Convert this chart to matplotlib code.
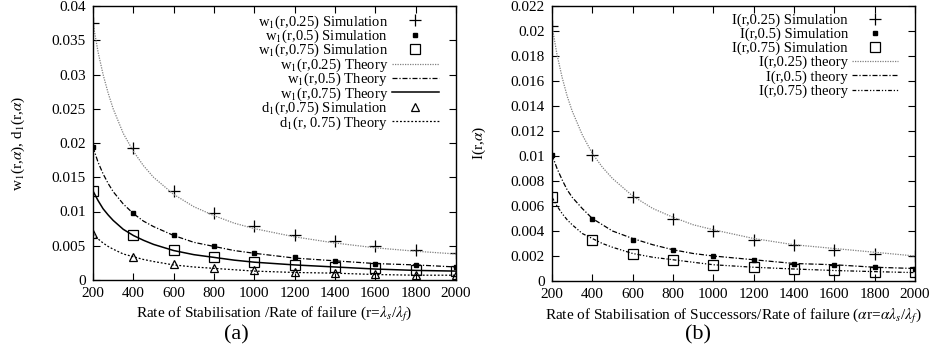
import matplotlib
matplotlib.use("Agg")
import matplotlib.pyplot as plt

plt.rcParams['font.family'] = ['Liberation Serif', 'DejaVu Serif']
plt.rcParams['mathtext.fontset'] = 'stix'
plt.rcParams['font.size'] = 11

# simulation points
r = [200, 400, 600, 800, 1000, 1200, 1400, 1600, 1800, 2000]
w1_25_sim = [0.0375, 0.0193, 0.0130, 0.0098, 0.0079, 0.0066, 0.0057, 0.0050, 0.0044, 0.0039]
w1_50_sim = [0.0194, 0.0098, 0.0066, 0.0049, 0.0040, 0.0033, 0.0028, 0.0024, 0.0022, 0.0019]
w1_75_sim = [0.0130, 0.0066, 0.0044, 0.0033, 0.0027, 0.0022, 0.0019, 0.0017, 0.0015, 0.0013]
d1_75_sim = [0.0067, 0.0034, 0.0023, 0.0017, 0.0014, 0.0012, 0.0010, 0.0009, 0.0008, 0.0007]

I_25_sim = [0.0204, 0.0101, 0.0067, 0.0050, 0.0040, 0.0033, 0.0029, 0.0025, 0.0022, 0.0020]
I_50_sim = [0.0101, 0.0050, 0.0033, 0.0025, 0.0020, 0.0017, 0.0014, 0.0013, 0.0011, 0.0010]
I_75_sim = [0.0067, 0.0033, 0.0022, 0.0017, 0.0013, 0.0011, 0.00095, 0.00085, 0.00075, 0.0007]

# theory curves (on a finer grid)
rt = [200, 225, 250, 275, 300, 350, 400, 450, 500, 600, 700, 800, 900, 1000,
      1200, 1400, 1600, 1800, 2000]
w1_25_th = [0.0375, 0.0333, 0.0300, 0.0273, 0.0250, 0.0214, 0.0188, 0.0167, 0.0150,
            0.0125, 0.0107, 0.0094, 0.0083, 0.0075, 0.0063, 0.0054, 0.0047, 0.0042, 0.0038]
w1_50_th = [0.0194, 0.0172, 0.0155, 0.0141, 0.0129, 0.0111, 0.0097, 0.0086, 0.0078,
            0.0065, 0.0055, 0.0049, 0.0043, 0.0039, 0.0032, 0.0028, 0.0024, 0.0022, 0.0019]
w1_75_th = [0.0130, 0.0116, 0.0104, 0.0095, 0.0087, 0.0074, 0.0065, 0.0058, 0.0052,
            0.0043, 0.0037, 0.0033, 0.0029, 0.0026, 0.0022, 0.0019, 0.0016, 0.0014, 0.0013]
d1_75_th = [0.0067, 0.0060, 0.0054, 0.0049, 0.0045, 0.0038, 0.0034, 0.0030, 0.0027,
            0.0022, 0.0019, 0.0017, 0.0015, 0.0013, 0.0011, 0.0010, 0.0008, 0.0007, 0.0007]

I_25_th = [0.0204, 0.0181, 0.0163, 0.0148, 0.0136, 0.0117, 0.0102, 0.0091, 0.0082,
           0.0068, 0.0058, 0.0051, 0.0045, 0.0041, 0.0034, 0.0029, 0.0026, 0.0023, 0.0020]
I_50_th = [0.0101, 0.0090, 0.0081, 0.0073, 0.0067, 0.0058, 0.0050, 0.0045, 0.0040,
           0.0034, 0.0029, 0.0025, 0.0022, 0.0020, 0.0017, 0.0014, 0.0013, 0.0011, 0.0010]
I_75_th = [0.0067, 0.0060, 0.0054, 0.0049, 0.0045, 0.0038, 0.0034, 0.0030, 0.0027,
           0.0022, 0.0019, 0.0017, 0.0015, 0.0013, 0.0011, 0.00096, 0.00084, 0.00075, 0.00067]

xticks = [200, 400, 600, 800, 1000, 1200, 1400, 1600, 1800, 2000]

fig = plt.figure(figsize=(9.32, 3.58), dpi=100)
W, H = 932.0, 358.0
ax1 = fig.add_axes([93 / W, 1 - 280 / H, (456 - 93) / W, (280 - 6) / H])
ax2 = fig.add_axes([552 / W, 1 - 281 / H, (915 - 552) / W, (281 - 6) / H])

def style(ax):
    ax.tick_params(direction='in', top=True, right=True, length=5, width=0.8, labelsize=11, pad=5)
    ax.set_xlim(200, 2000)
    ax.set_xticks(xticks)
    for s in ax.spines.values():
        s.set_linewidth(1.0)

leg_kw = dict(loc='upper right', frameon=False, markerfirst=False, alignment='right',
              fontsize=10.5, handlelength=3.2, handletextpad=0.25, borderpad=0.0)

# panel (a)
ax1.plot(r, w1_25_sim, '+', color='k', ms=8, mew=0.9, label='w$_1$(r,0.25) Simulation')
ax1.plot(r, w1_50_sim, 's', color='k', ms=3.5, label='w$_1$(r,0.5) Simulation')
ax1.plot(r, w1_75_sim, 's', mfc='none', mec='k', ms=6.5, mew=0.9, label='w$_1$(r,0.75) Simulation')
ax1.plot(rt, w1_25_th, color='0.5', lw=0.9, ls=(0, (1, 1)), label='w$_1$(r,0.25) Theory')
ax1.plot(rt, w1_50_th, color='k', lw=0.9, ls=(0, (4, 1.5, 1, 1.5)), label='w$_1$(r,0.5) Theory')
ax1.plot(rt, w1_75_th, color='k', lw=1.1, ls='-', label='w$_1$(r,0.75) Theory')
ax1.plot(r, d1_75_sim, '^', mfc='none', mec='k', ms=6, mew=0.9, label='d$_1$(r,0.75) Simulation')
ax1.plot(rt, d1_75_th, color='k', lw=0.9, ls=(0, (1.5, 1.5)), label='d$_1$(r, 0.75) Theory')
style(ax1)
ax1.set_ylim(0, 0.04)
ax1.set_yticks([0, 0.005, 0.01, 0.015, 0.02, 0.025, 0.03, 0.035, 0.04])
ax1.set_yticklabels(['0', '0.005', '0.01', '0.015', '0.02', '0.025', '0.03', '0.035', '0.04'])
ax1.set_ylabel(r'w$_1$(r,$\alpha$), d$_1$(r,$\alpha$)', fontsize=11)
ax1.yaxis.set_label_coords(-0.182, 0.5)
ax1.set_xlabel(r'Rate of Stabilisation /Rate of failure (r=$\lambda_s$/$\lambda_f$)', fontsize=11, labelpad=4)
ax1.legend(bbox_to_anchor=(0.972, 1.0), labelspacing=-0.2, **leg_kw)
fig.text(236 / W, 1 - 335 / H, '(a)', fontsize=16, ha='center', va='center')

# panel (b)
ax2.plot(r, I_25_sim, '+', color='k', ms=8, mew=0.9, label='I(r,0.25) Simulation')
ax2.plot(r, I_50_sim, 's', color='k', ms=3.5, label='I(r,0.5) Simulation')
ax2.plot(r, I_75_sim, 's', mfc='none', mec='k', ms=6.5, mew=0.9, label='I(r,0.75) Simulation')
ax2.plot(rt, I_25_th, color='0.5', lw=0.9, ls=(0, (1, 1)), label='I(r,0.25) theory')
ax2.plot(rt, I_50_th, color='k', lw=0.9, ls=(0, (4, 1.5, 1, 1.5)), label='I(r,0.5) theory')
ax2.plot(rt, I_75_th, color='k', lw=0.9, ls=(0, (3, 1.5, 1, 1.5, 1, 1.5)), label='I(r,0.75) theory')
style(ax2)
ax2.set_ylim(0, 0.022)
yt2 = [0, 0.002, 0.004, 0.006, 0.008, 0.01, 0.012, 0.014, 0.016, 0.018, 0.02, 0.022]
ax2.set_yticks(yt2)
ax2.set_yticklabels(['0', '0.002', '0.004', '0.006', '0.008', '0.01', '0.012', '0.014',
                     '0.016', '0.018', '0.02', '0.022'])
ax2.set_ylabel(r'I(r,$\alpha$)', fontsize=11)
ax2.yaxis.set_label_coords(-0.175, 0.5)
ax2.set_xlabel(r'Rate of Stabilisation of Successors/Rate of failure ($\alpha$r=$\alpha\lambda_s$/$\lambda_f$)',
               fontsize=11, labelpad=4)
ax2.legend(bbox_to_anchor=(0.974, 1.0), labelspacing=0.05, **leg_kw)
fig.text(698 / W, 1 - 335 / H, '(b)', fontsize=16, ha='center', va='center')

fig.savefig('out.png', dpi=100)
